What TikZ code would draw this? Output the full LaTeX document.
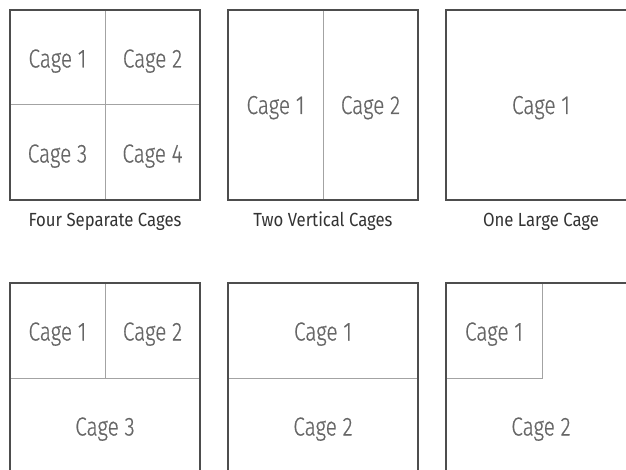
\documentclass[tikz,border=0pt]{standalone}
\usepackage{fontspec}
\newfontfamily\cagefont[FakeStretch=0.8,FakeBold=0.6]{Fira Sans Light}
\newfontfamily\capfont[FakeStretch=0.88]{Fira Sans}

\begin{document}
\begin{tikzpicture}[x=1pt,y=-1pt]
    \definecolor{wallgray}{HTML}{4D4D4D}
    \definecolor{splitgray}{HTML}{A3A3A3}
    \definecolor{labelgray}{HTML}{666666}
    \definecolor{captiongray}{HTML}{333333}
    \tikzset{
      wall/.style={draw=wallgray,line width=1.4pt},
      split/.style={draw=splitgray,line width=1pt},
      cage/.style={anchor=base,text=labelgray,font=\cagefont\fontsize{26}{26}\selectfont},
      caption/.style={anchor=base,text=captiongray,font=\capfont\fontsize{19}{19}\selectfont},
    }
    \useasboundingbox (0,0) rectangle (626,470);
    \clip (0,0) rectangle (626,470);
    % Cuatro jaulas
    \draw[split] (105,10) -- (105,200);
    \draw[split] (10,105) -- (200,105);
    \draw[wall] (10,10) rectangle (200,200);
    \node[cage] (fourA) at (57.5,67.5) {Cage 1};
    \node[cage] (fourB) at (152.5,67.5) {Cage 2};
    \node[cage] (fourC) at (57.5,162.5) {Cage 3};
    \node[cage] (fourD) at (152.5,162.5) {Cage 4};
    \node[caption] (fourCap) at (105,227) {Four Separate Cages};
    % Dos jaulas verticales
    \draw[split] (323,10) -- (323,200);
    \draw[wall] (228,10) rectangle (418,200);
    \node[cage] (twoA) at (275.5,114) {Cage 1};
    \node[cage] (twoB) at (370.5,114) {Cage 2};
    \node[caption] (twoCap) at (323,227) {Two Vertical Cages};
    % Una jaula grande
    \draw[wall] (446,10) rectangle (636,200);
    \node[cage] (oneA) at (541,114) {Cage 1};
    \node[caption] (oneCap) at (541,227) {One Large Cage};
    % Dos arriba, una abajo
    \draw[split] (105,283) -- (105,378);
    \draw[split] (10,378) -- (200,378);
    \draw[wall] (10,283) rectangle (200,473);
    \node[cage] (mixA) at (57.5,340.5) {Cage 1};
    \node[cage] (mixB) at (152.5,340.5) {Cage 2};
    \node[cage] (mixC) at (105,435.5) {Cage 3};
    % Dos jaulas horizontales
    \draw[split] (228,378) -- (418,378);
    \draw[wall] (228,283) rectangle (418,473);
    \node[cage] (horA) at (323,340.5) {Cage 1};
    \node[cage] (horB) at (323,435.5) {Cage 2};
    % Jaula en esquina
    \draw[split] (542,283) -- (542,378) -- (446,378);
    \draw[wall] (446,283) rectangle (636,473);
    \node[cage] (cornA) at (494,340.5) {Cage 1};
    \node[cage] (cornB) at (541,435.5) {Cage 2};
\end{tikzpicture}
\end{document}
